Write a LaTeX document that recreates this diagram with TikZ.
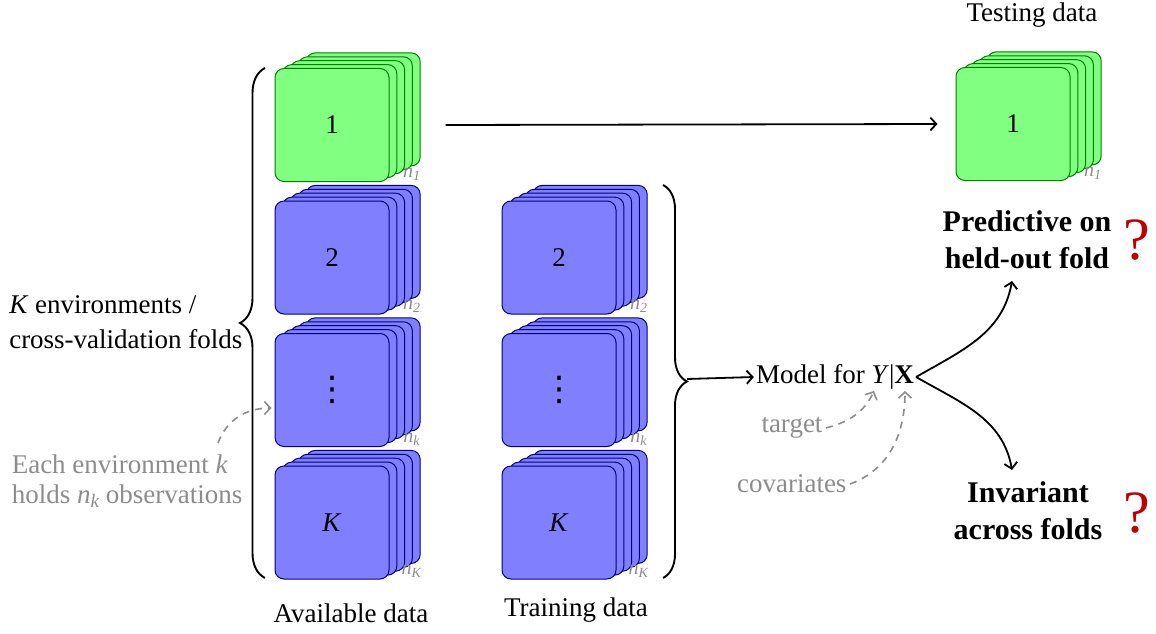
\documentclass[tikz,border=0pt]{standalone}
\usepackage{fontspec}
\setmainfont{Liberation Serif}
\newfontfamily\djv{DejaVu Sans}
\usetikzlibrary{decorations.pathreplacing,calc,arrows.meta}
\definecolor{qred}{HTML}{C00000}
\newcommand{\fsmain}{\fontsize{27}{30}\selectfont}
\newcommand{\fscard}{\fontsize{27}{30}\selectfont}
\newcommand{\fsbold}{\fontsize{30}{37}\selectfont\bfseries}
\newcommand{\fsn}{\fontsize{20}{20}\selectfont}
\newcommand{\vdotsbig}{\raisebox{-6pt}{\djv\fontsize{34}{34}\selectfont ⋮}}
\newcommand{\nsub}[1]{\textit{n}\raisebox{-4pt}{\fontsize{19}{19}\selectfont\textit{#1}}}
\newcommand{\ncard}[1]{\textit{n}\raisebox{-3pt}{\fontsize{14}{14}\selectfont\textit{#1}}}
\tikzset{
  card/.style={draw, rounded corners=9pt, minimum width=114pt, minimum height=113pt, line width=1pt, inner sep=0pt, font=\fscard},
  gcard/.style={card, fill=green!50, draw=green!50!black},
  bcard/.style={card, fill=blue!50, draw=blue!50!black},
  nlab/.style={text=black!45, font=\fsn, inner sep=0pt},
  tip/.style={-{Straight Barb[length=6pt,width=13pt]}},
  mainline/.style={line width=1.8pt, tip},
  gdash/.style={draw=black!45, line width=1.6pt, dash pattern=on 7pt off 6pt, tip},
  bracest/.style={line width=1.9pt, decorate},
}
% name, x, y, card style, label, n-label
\newcommand{\cardstack}[6]{%
  \foreach \k in {4,3,2,1} {\node[#4] (#1-\k) at ($(#2,#3)+(\k*7.8,-\k*3.9)$) {};}
  \node[#4] (#1) at (#2,#3) {#5};
  \node[nlab] (#1-n) at ($(#1.south east)+(22,-8)$) {\ncard{#6}};
}
\begin{document}
\begin{tikzpicture}[x=1pt,y=-1pt]
\useasboundingbox (0,0) rectangle (1156,634);

% available data
\cardstack{a1}{332}{125}{gcard}{1}{1}
\cardstack{a2}{332}{257.5}{bcard}{2}{2}
\cardstack{a3}{332}{390}{bcard}{\vdotsbig}{k}
\cardstack{a4}{332}{522.5}{bcard}{\textit{K}}{K}
% training data
\cardstack{b2}{559}{257.5}{bcard}{2}{2}
\cardstack{b3}{559}{390}{bcard}{\vdotsbig}{k}
\cardstack{b4}{559}{522.5}{bcard}{\textit{K}}{K}
% testing data
\cardstack{t1}{1013}{124}{gcard}{1}{1}

\node[font=\fsmain] (avail) at (351,613) {Available data};
\node[font=\fsmain] (train) at (576,610) {Training data};
\node[font=\fsmain] (test) at (1032,15) {Testing data};

% braces
\draw[bracest, decoration={brace, amplitude=25pt}] (265,578) -- (265,68);
\node[font=\fsmain, align=left, anchor=east] (kenv) at (246,322) {\textit{K} environments /\\[5pt]cross-validation folds};
\draw[bracest, decoration={brace, amplitude=24pt}] (663,185) -- (663,578);
\coordinate (btip) at (687,379);

% model
\node[font=\fsmain, inner sep=2pt] (model) at (835,377) {Model for \textit{Y}|\textbf{X}};
\draw[mainline] (btip) -- (model.west);

\draw[mainline] ([xshift=25pt]a1-4.east |- a1.east) -- ([xshift=-18pt]t1.west);

% outcomes
\node[font=\fsbold, align=center] (pred) at (1027,240) {Predictive on\\held-out fold};
\node[font=\fsbold, align=center] (inv) at (1028,511) {Invariant\\across folds};
\node[text=qred, font=\fontsize{60}{60}\selectfont, inner sep=0pt] (q1) at (1137,240) {?};
\node[text=qred, font=\fontsize{60}{60}\selectfont, inner sep=0pt] (q2) at (1137,513) {?};
\coordinate (pin) at (1012,281);
\coordinate (iin) at (1012,470);
\draw[mainline] (model.east) to[out=30,in=-100] (pin);
\draw[mainline] (model.east) to[out=-30,in=100] (iin);

% gray annotations
\node[font=\fsmain, text=black!45, align=left, anchor=east] (each) at (246,481) {Each environment \textit{k}\\holds \nsub{k} observations};
\coordinate (eachstart) at (218,443);
\draw[gdash] (eachstart) to[out=70,in=180] ([xshift=-3pt]a3.west |- 0,408);

\node[font=\fsmain, text=black!45, anchor=east] (target) at (826,428) {target};
\node[font=\fsmain, text=black!45, anchor=east] (cov) at (850,484) {covariates};
\coordinate (yy) at (874,391);
\coordinate (xx) at (905,391);
\draw[gdash] (target.east) to[out=15,in=-115] (yy);
\draw[gdash] (cov.east) to[out=20,in=-90] (xx);
\end{tikzpicture}
\end{document}
